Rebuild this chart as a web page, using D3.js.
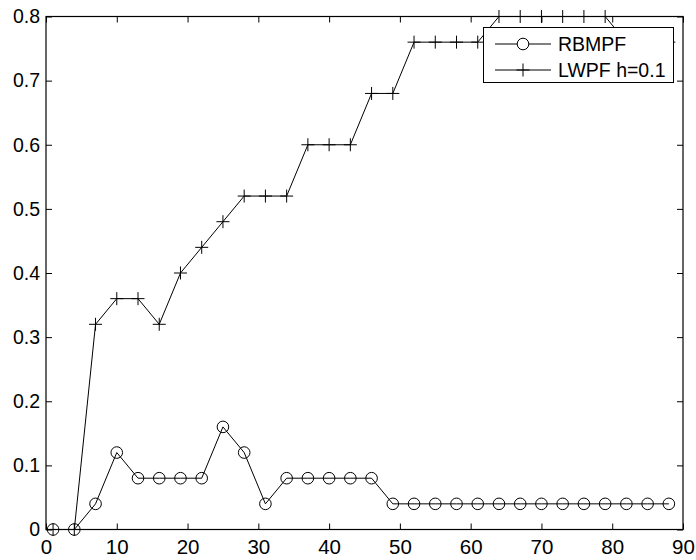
<!DOCTYPE html>
<html>
<head>
<meta charset="utf-8">
<script src="https://cdn.jsdelivr.net/npm/d3@7"></script>
<style>
  html, body { margin: 0; padding: 0; background: #fff; }
  svg { display: block; }
  text { font-family: "Liberation Sans", Arial, Helvetica, sans-serif; fill: #000; }
</style>
</head>
<body>
<svg id="chart" width="696" height="560"></svg>
<script>
// Sample positions shared by both series
const steps = [1, 4, 7, 10, 13, 16, 19, 22, 25, 28, 31, 34, 37, 40, 43, 46, 49, 52, 55, 58, 61, 64, 67, 70, 73, 76, 79, 82, 85, 88];
const rbmpf = [0, 0, 0.04, 0.12, 0.08, 0.08, 0.08, 0.08, 0.16, 0.12, 0.04, 0.08, 0.08, 0.08, 0.08, 0.08, 0.04, 0.04, 0.04, 0.04, 0.04, 0.04, 0.04, 0.04, 0.04, 0.04, 0.04, 0.04, 0.04, 0.04];
const lwpf = [0, 0, 0.32, 0.36, 0.36, 0.32, 0.40, 0.44, 0.48, 0.52, 0.52, 0.52, 0.60, 0.60, 0.60, 0.68, 0.68, 0.76, 0.76, 0.76, 0.76, 0.80, 0.80, 0.80, 0.80, 0.80, 0.80, 0.76, 0.76, 0.76];
const seriesNames = ["RBMPF", "LWPF h=0.1"];
const xTicks = [0, 10, 20, 30, 40, 50, 60, 70, 80, 90];
const yTicks = [0, 0.1, 0.2, 0.3, 0.4, 0.5, 0.6, 0.7, 0.8];

const svg = d3.select("#chart");
const L = 46, R = 683, T = 16.5, B = 529.5;

const x = d3.scaleLinear().domain([0, 90]).range([L, R]);
const y = d3.scaleLinear().domain([0, 0.8]).range([B, T]);

const tickLen = 6;
const fmtY = d => d === 0 ? "0" : d3.format(".1f")(d);

// Axes: labelled bottom/left, tick-only top/right (ticks pointing inward)
svg.append("g").attr("transform", `translate(0,${B})`)
  .call(d3.axisBottom(x).tickValues(xTicks).tickSizeInner(-tickLen).tickSizeOuter(0).tickPadding(9.5).tickFormat(d3.format("d")))
  .call(g => g.selectAll("text").attr("font-size", 20.5).attr("font-family", "Liberation Sans, Arial, sans-serif"));
svg.append("g").attr("transform", `translate(${L},0)`)
  .call(d3.axisLeft(y).tickValues(yTicks).tickSizeInner(-tickLen).tickSizeOuter(0).tickPadding(6).tickFormat(fmtY))
  .call(g => g.selectAll("text").attr("font-size", 19.5).attr("font-family", "Liberation Sans, Arial, sans-serif"));
svg.append("g").attr("transform", `translate(0,${T})`)
  .call(d3.axisTop(x).tickValues(xTicks).tickSizeInner(-tickLen).tickSizeOuter(0).tickFormat(""));
svg.append("g").attr("transform", `translate(${R},0)`)
  .call(d3.axisRight(y).tickValues(yTicks).tickSizeInner(-tickLen).tickSizeOuter(0).tickFormat(""));
svg.selectAll(".domain").remove();
svg.selectAll(".tick line").attr("stroke", "#000").attr("stroke-width", 1);

// Frame box
svg.append("rect")
  .attr("x", L).attr("y", T).attr("width", R - L).attr("height", B - T)
  .attr("fill", "none").attr("stroke", "#000").attr("stroke-width", 1.2);

const line = d3.line().x(d => x(d[0])).y(d => y(d[1]));
const rbData = steps.map((s, i) => [s, rbmpf[i]]);
const lwData = steps.map((s, i) => [s, lwpf[i]]);

const plot = svg.append("g");

// LWPF series with plus markers
plot.append("path").datum(lwData).attr("d", line)
  .attr("fill", "none").attr("stroke", "#000").attr("stroke-width", 1);
const plusSize = 6.5;
plot.selectAll(".plus").data(lwData).join("path")
  .attr("class", "plus")
  .attr("d", d => `M${x(d[0]) - plusSize},${y(d[1])}H${x(d[0]) + plusSize}M${x(d[0])},${y(d[1]) - plusSize}V${y(d[1]) + plusSize}`)
  .attr("stroke", "#000").attr("stroke-width", 1).attr("fill", "none");

// RBMPF series with open circle markers
plot.append("path").datum(rbData).attr("d", line)
  .attr("fill", "none").attr("stroke", "#000").attr("stroke-width", 1);
plot.selectAll(".circ").data(rbData).join("circle")
  .attr("class", "circ")
  .attr("cx", d => x(d[0])).attr("cy", d => y(d[1])).attr("r", 5.8)
  .attr("fill", "none").attr("stroke", "#000").attr("stroke-width", 1);

// Legend
const lg = svg.append("g");
lg.append("rect").attr("x", 483.5).attr("y", 27.5).attr("width", 190).attr("height", 55)
  .attr("fill", "#fff").attr("stroke", "#000").attr("stroke-width", 1);
const rows = [44, 70];
rows.forEach((ry, i) => {
  lg.append("line").attr("x1", 495).attr("x2", 551).attr("y1", ry).attr("y2", ry)
    .attr("stroke", "#000").attr("stroke-width", 1);
  if (i === 0) {
    lg.append("circle").attr("cx", 523).attr("cy", ry).attr("r", 5.8)
      .attr("fill", "#fff").attr("stroke", "#000").attr("stroke-width", 1);
  } else {
    lg.append("path").attr("d", `M${523 - plusSize},${ry}H${523 + plusSize}M523,${ry - plusSize}V${ry + plusSize}`)
      .attr("stroke", "#000").attr("stroke-width", 1);
  }
  lg.append("text").attr("x", 558).attr("y", ry).attr("dy", "0.36em")
    .attr("font-size", 19.5).text(seriesNames[i]);
});
</script>
</body>
</html>
